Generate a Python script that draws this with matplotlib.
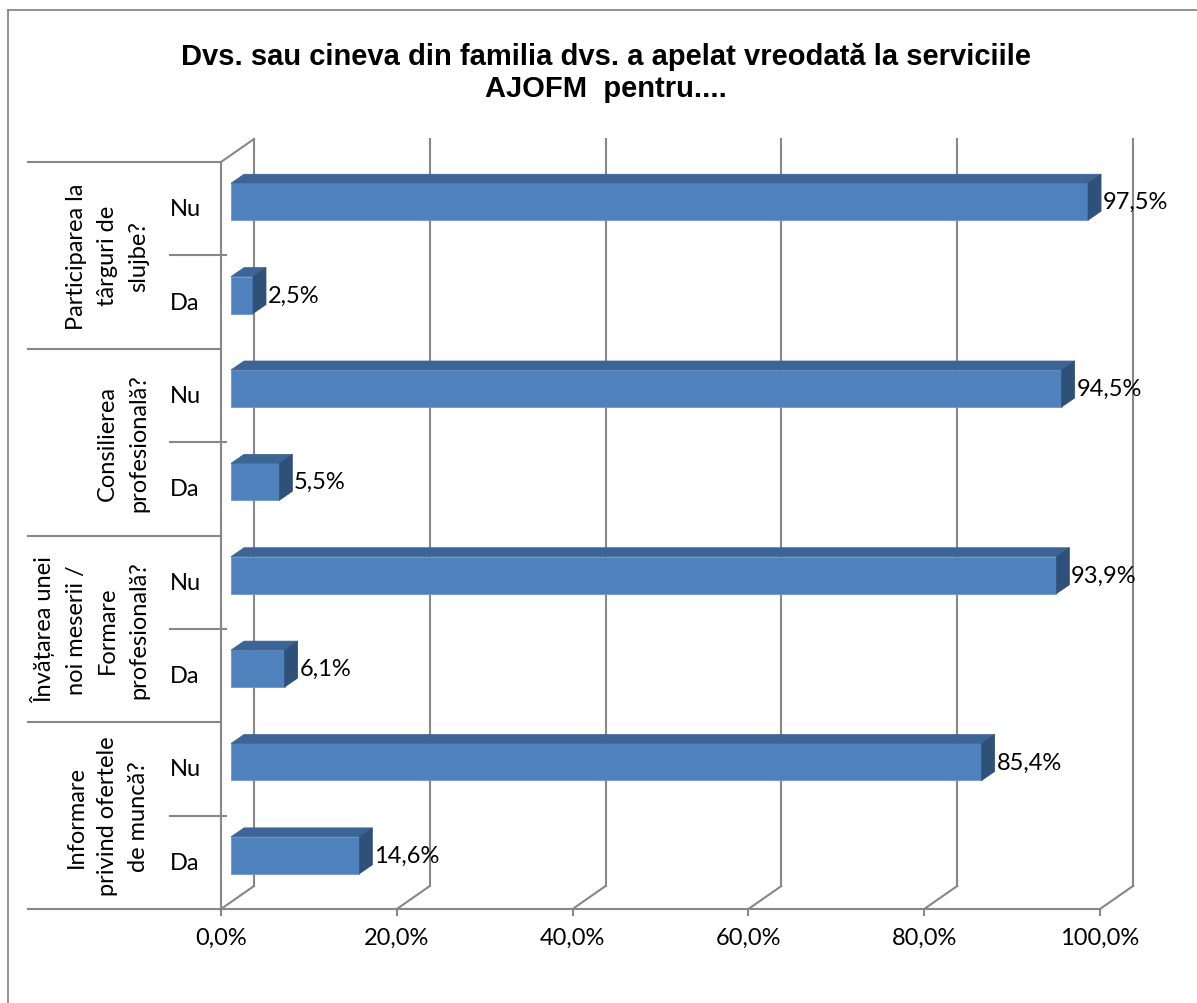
import matplotlib
matplotlib.use('Agg')
import matplotlib.pyplot as plt
from matplotlib.patches import Polygon
from matplotlib.lines import Line2D

# data, bottom group first
groups = ['Informare\nprivind ofertele\nde muncă?',
          'Învățarea unei\nnoi meserii /\nFormare\nprofesională?',
          'Consilierea\nprofesională?',
          'Participarea la\ntârguri de\nslujbe?']
answers = ['Da', 'Nu']
da = [14.6, 6.1, 5.5, 2.5]
nu = [85.4, 93.9, 94.5, 97.5]
ticks = [0, 20, 40, 60, 80, 100]
tick_labels = ['0,0%', '20,0%', '40,0%', '60,0%', '80,0%', '100,0%']
title = 'Dvs. sau cineva din familia dvs. a apelat vreodată la serviciile\nAJOFM  pentru....'

W, H = 1197, 1004
plt.rcParams['font.family'] = ['Lato', 'DejaVu Sans']
fs = 17

fig = plt.figure(figsize=(W / 100, H / 100), dpi=100)
ax = fig.add_axes([221 / W, (H - 910) / H, 879 / W, 747 / H])
ax.set_xlim(0, 100)
ax.set_ylim(-0.5, 7.5)

grid_c = '#878787'
front = '#4f81bd'
top_c = '#3c6494'
side_c = '#2f5079'

# 3D depth offsets (in data units)
wall_dx, wall_dy = 3.75, 0.246
bar_x0, bar_dx, bar_dy = 1.14, 1.48, 0.096
bar_h, bar_yo = 0.396, 0.075

# back wall gridlines and floor diagonals
for t in ticks:
    ax.plot([t + wall_dx] * 2, [-0.5 + wall_dy, 7.5 + wall_dy], color=grid_c, lw=1.5, clip_on=False)
    ax.plot([t, t + wall_dx], [-0.5, -0.5 + wall_dy], color=grid_c, lw=1.5, clip_on=False)
# left wall
ax.plot([0, 0], [-0.5, 7.5], color=grid_c, lw=1.5, clip_on=False)
ax.plot([0, wall_dx], [7.5, 7.5 + wall_dy], color=grid_c, lw=1.5, clip_on=False)

# bars
values, ypos = [], []
for g in range(len(groups)):
    values += [da[g], nu[g]]
    ypos += [2 * g, 2 * g + 1]

for v, y in zip(values, ypos):
    yc = y + bar_yo
    bot, top = yc - bar_h / 2, yc + bar_h / 2
    ax.barh(yc, v, left=bar_x0, height=bar_h, color=front, edgecolor='#6f97cb', lw=0.6, zorder=3)
    x1 = bar_x0 + v
    ax.add_patch(Polygon([(bar_x0, top), (x1, top), (x1 + bar_dx, top + bar_dy), (bar_x0 + bar_dx, top + bar_dy)],
                         closed=True, facecolor=top_c, edgecolor=top_c, lw=0.5, zorder=3, clip_on=False))
    ax.add_patch(Polygon([(x1, bot), (x1 + bar_dx, bot + bar_dy), (x1 + bar_dx, top + bar_dy), (x1, top)],
                         closed=True, facecolor=side_c, edgecolor=side_c, lw=0.5, zorder=3, clip_on=False))
    ax.text(x1 + bar_dx + 0.2, yc, f'{v:.1f}%'.replace('.', ','), ha='left', va='center',
            fontsize=fs, color='black', zorder=4, clip_on=False)

# axes styling
for s in ['top', 'right', 'left']:
    ax.spines[s].set_visible(False)
ax.spines['bottom'].set_color(grid_c)
ax.spines['bottom'].set_linewidth(1.5)
ax.set_xticks(ticks)
ax.set_xticklabels(tick_labels, fontsize=fs)
ax.tick_params(axis='x', direction='out', length=5, width=1.5, color=grid_c, pad=8)
ax.set_yticks([])

# left category labels and separators
ytr = ax.get_yaxis_transform()
for k in range(len(groups) + 1):
    ax.add_line(Line2D([-0.2196, 0.0], [2 * k - 0.5] * 2, transform=ytr, color=grid_c, lw=1.5, clip_on=False))
for k in range(len(groups)):
    ax.add_line(Line2D([-0.058, 0.006], [2 * k + 0.5] * 2, transform=ytr, color=grid_c, lw=1.5, clip_on=False))
    ax.text(-0.082, 2 * k + 0.5, groups[k], transform=ytr, rotation=90, ha='right', va='center',
            multialignment='center', fontsize=fs, linespacing=1.6)
for y in ypos:
    ax.text(-0.041, y, answers[y % 2], transform=ytr, ha='center', va='center', fontsize=fs)

# title
fig.text(606 / W, 1 - 43 / H, title, ha='center', va='top', fontsize=21, fontweight='bold',
         family='Liberation Sans', linespacing=1.2)

# chart border (left and top)
fig.add_artist(Line2D([8 / W, 8 / W], [0, 1 - 11 / H], color='#7f7f7f', lw=1.2))
fig.add_artist(Line2D([8 / W, 1], [1 - 11 / H, 1 - 11 / H], color='#7f7f7f', lw=1.2))

fig.savefig('out.png', dpi=100)
